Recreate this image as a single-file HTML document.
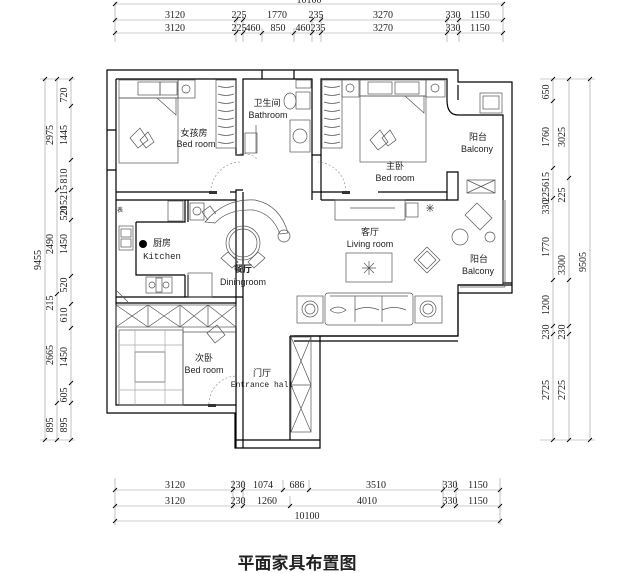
<!DOCTYPE html>
<html><head><meta charset="utf-8"><style>
html,body{margin:0;padding:0;background:#fff;width:630px;height:573px;overflow:hidden}
svg{display:block}
text{font-family:"Liberation Serif","Noto Serif CJK SC",serif;fill:#222}
.s{font-family:"Liberation Sans","Noto Sans CJK SC",sans-serif}
</style></head><body>
<svg width="630" height="573" viewBox="0 0 630 573" xmlns="http://www.w3.org/2000/svg">
<text x="309" y="3" font-size="10" text-anchor="middle">10100</text>
<g stroke="#999" stroke-width="0.6" fill="none">
<line x1="115" y1="4" x2="503" y2="4"/>
<line x1="115" y1="20" x2="503" y2="20"/>
<line x1="115" y1="33" x2="503" y2="33"/>
<g>
<line x1="115" y1="2" x2="115" y2="42"/><line x1="236" y1="15" x2="236" y2="42"/><line x1="243" y1="15" x2="243" y2="42"/>
<line x1="262" y1="28" x2="262" y2="42"/><line x1="294" y1="28" x2="294" y2="42"/><line x1="312" y1="15" x2="312" y2="42"/>
<line x1="321" y1="15" x2="321" y2="42"/><line x1="447" y1="15" x2="447" y2="42"/><line x1="459" y1="15" x2="459" y2="42"/>
<line x1="503" y1="2" x2="503" y2="42"/>
</g>
<line x1="45" y1="79" x2="45" y2="440"/><line x1="57" y1="79" x2="57" y2="440"/><line x1="71" y1="79" x2="71" y2="440"/>
<line x1="553" y1="79" x2="553" y2="440"/><line x1="569" y1="79" x2="569" y2="440"/><line x1="590" y1="79" x2="590" y2="440"/>
<line x1="540" y1="79" x2="595" y2="79"/><line x1="540" y1="440" x2="595" y2="440"/>
<line x1="40" y1="79" x2="75" y2="79"/><line x1="40" y1="440" x2="75" y2="440"/>
<line x1="115" y1="490" x2="500" y2="490"/><line x1="115" y1="506" x2="500" y2="506"/><line x1="115" y1="521" x2="500" y2="521"/>
<line x1="115" y1="478" x2="115" y2="525"/><line x1="500" y1="478" x2="500" y2="525"/>
<line x1="233" y1="480" x2="233" y2="508"/><line x1="243" y1="480" x2="243" y2="508"/><line x1="283" y1="480" x2="283" y2="492"/>
<line x1="290" y1="496" x2="290" y2="508"/><line x1="309" y1="480" x2="309" y2="492"/><line x1="443" y1="480" x2="443" y2="508"/><line x1="456" y1="480" x2="456" y2="508"/>
</g>
<g stroke="#000" stroke-width="0.9">
<path d="M113,22 l4,-4 M234,22 l4,-4 M241,22 l4,-4 M310,22 l4,-4 M319,22 l4,-4 M445,22 l4,-4 M457,22 l4,-4 M501,22 l4,-4
M113,35 l4,-4 M234,35 l4,-4 M241,35 l4,-4 M260,35 l4,-4 M292,35 l4,-4 M310,35 l4,-4 M319,35 l4,-4 M445,35 l4,-4 M457,35 l4,-4 M501,35 l4,-4
M113,6 l4,-4 M501,6 l4,-4
M113,492 l4,-4 M231,492 l4,-4 M241,492 l4,-4 M281,492 l4,-4 M307,492 l4,-4 M441,492 l4,-4 M454,492 l4,-4 M498,492 l4,-4
M113,508 l4,-4 M231,508 l4,-4 M241,508 l4,-4 M288,508 l4,-4 M441,508 l4,-4 M454,508 l4,-4 M498,508 l4,-4
M113,523 l4,-4 M498,523 l4,-4
M43,81 l4,-4 M55,81 l4,-4 M69,81 l4,-4 M43,442 l4,-4 M55,442 l4,-4 M69,442 l4,-4
M69,108 l4,-4 M69,162 l4,-4 M55,192 l4,-4 M69,192 l4,-4 M69,222 l4,-4 M69,278 l4,-4 M55,296 l4,-4 M69,306 l4,-4 M69,330 l4,-4 M69,385 l4,-4 M55,405 l4,-4 M69,405 l4,-4
M551,81 l4,-4 M567,81 l4,-4 M588,81 l4,-4 M551,442 l4,-4 M567,442 l4,-4 M588,442 l4,-4
M551,103 l4,-4 M551,170 l4,-4 M567,180 l4,-4 M551,200 l4,-4 M551,282 l4,-4 M567,282 l4,-4 M551,328 l4,-4 M567,328 l4,-4 M551,336 l4,-4 M567,336 l4,-4"/>
</g>
<g font-size="10" text-anchor="middle">
<text x="175" y="18">3120</text><text x="239" y="18">225</text><text x="277" y="18">1770</text><text x="316" y="18">235</text><text x="383" y="18">3270</text><text x="453" y="18">330</text><text x="480" y="18">1150</text>
<text x="175" y="31">3120</text><text x="239" y="31">225</text><text x="253" y="31">460</text><text x="278" y="31">850</text><text x="303" y="31">460</text><text x="318" y="31">235</text><text x="383" y="31">3270</text><text x="453" y="31">330</text><text x="480" y="31">1150</text>
<text x="175" y="488">3120</text><text x="238" y="488">230</text><text x="263" y="488">1074</text><text x="297" y="488">686</text><text x="376" y="488">3510</text><text x="450" y="488">330</text><text x="478" y="488">1150</text>
<text x="175" y="504">3120</text><text x="238" y="504">230</text><text x="267" y="504">1260</text><text x="367" y="504">4010</text><text x="450" y="504">330</text><text x="478" y="504">1150</text>
<text x="307" y="519">10100</text>
</g>
<g font-size="10" text-anchor="middle">
<text transform="translate(41,260) rotate(-90)">9455</text>
<text transform="translate(53,135) rotate(-90)">2975</text><text transform="translate(53,244) rotate(-90)">2490</text><text transform="translate(53,303) rotate(-90)">215</text><text transform="translate(53,355) rotate(-90)">2665</text><text transform="translate(53,425) rotate(-90)">895</text>
<text transform="translate(67,95) rotate(-90)">720</text><text transform="translate(67,135) rotate(-90)">1445</text><text transform="translate(67,176) rotate(-90)">810</text><text transform="translate(67,200) rotate(-90)">215215</text><text transform="translate(67,213) rotate(-90)">520</text><text transform="translate(67,244) rotate(-90)">1450</text><text transform="translate(67,285) rotate(-90)">520</text><text transform="translate(67,315) rotate(-90)">610</text><text transform="translate(67,357) rotate(-90)">1450</text><text transform="translate(67,395) rotate(-90)">605</text><text transform="translate(67,425) rotate(-90)">895</text>
<text transform="translate(549,92) rotate(-90)">650</text><text transform="translate(549,137) rotate(-90)">1760</text><text transform="translate(549,187) rotate(-90)">225615</text><text transform="translate(549,207) rotate(-90)">330</text><text transform="translate(549,247) rotate(-90)">1770</text><text transform="translate(549,305) rotate(-90)">1200</text><text transform="translate(549,332) rotate(-90)">230</text><text transform="translate(549,390) rotate(-90)">2725</text>
<text transform="translate(565,137) rotate(-90)">3025</text><text transform="translate(565,195) rotate(-90)">225</text><text transform="translate(565,265) rotate(-90)">3300</text><text transform="translate(565,332) rotate(-90)">230</text><text transform="translate(565,390) rotate(-90)">2725</text>
<text transform="translate(586,262) rotate(-90)">9505</text>
</g>
<g stroke="#000" stroke-width="1.2" fill="none">
<path d="M107,70 H458 V82 H512 V293 H458 V336 H320 V448 H235 V413 H107 Z"/>
<path d="M116,79 V405 H236 V448"/>
<path d="M116,79 H236 V155 H243 V79 H312 V155 H321 V79 H447 V100"/>
<path d="M458,100 V85 M447,100 Q447,115 458,115 H503 V285"/>
<path d="M503,285 H458 V336"/>
<path d="M116,192 H211 M230,192 H236 V200 M243,192 V200 M243,200 V414 M236,405 V200"/>
<path d="M236,192 V190 H243 M312,155 V192 H321 V155 M321,192 H346 M312,192 V200 M321,192 V200 M378,192 H447 V172 H458 V200 H447 V192"/>
<path d="M116,200 H236 M321,200 H447"/>
<path d="M136,222 H185 V200 M188,200 V222 M136,222 V275 H185 M185,275 V297 H188 V275"/>
<path d="M116,297 H185 M188,297 H243 M116,303 H236"/>
<path d="M243,414 V448 M290,336 V440 M290,336 H320"/>
<path d="M294,336 H458 M294,341 H458"/>
<path d="M262,70 V79 M294,70 V79 M107,130 H116 M107,170 H116"/>
<path d="M235,440 H320"/>
<path d="M458,285 H512 M503,283 H512"/>
</g>
<g stroke="#888" stroke-width="0.6" fill="none" stroke-dasharray="2,2">
<path d="M211,192 A30,30 0 0 1 240,162"/>
<path d="M346,192 A30,30 0 0 0 318,162"/>
<path d="M209,404 A28,28 0 0 1 237,376"/>
<path d="M236,155 A20,20 0 0 1 258,160"/>
</g>
<g stroke="#555" stroke-width="0.7" fill="none">
<rect x="119" y="98" width="59" height="65"/><rect x="119" y="80" width="59" height="18"/>
<rect x="138" y="82" width="22" height="13"/><rect x="160" y="82" width="17" height="13"/>
<path d="M157,98 L176,115 V98"/><path d="M130,138 l10,-10 l8,12 l-10,8z M140,140 l8,-8 l6,10 l-8,6z"/>
<rect x="178" y="80" width="17" height="18"/><circle cx="186" cy="89" r="4"/>
<rect x="216" y="80" width="20" height="68"/>
<path d="M218,86 q8,3 16,0 M218,94 q8,3 16,0 M218,102 q8,3 16,0 M218,110 q8,3 16,0 M218,118 q8,3 16,0 M218,126 q8,3 16,0 M218,134 q8,3 16,0 M218,142 q8,3 16,0"/>
<rect x="296" y="80" width="15" height="8"/><ellipse cx="290" cy="101" rx="6" ry="8"/><rect x="296" y="92" width="14" height="17"/>
<rect x="290" y="120" width="20" height="32"/><circle cx="300" cy="136" r="7"/>
<rect x="245" y="133" width="12" height="20"/><line x1="256" y1="125" x2="256" y2="153"/>
<rect x="322" y="80" width="20" height="68"/>
<path d="M324,86 q8,3 16,0 M324,94 q8,3 16,0 M324,102 q8,3 16,0 M324,110 q8,3 16,0 M324,118 q8,3 16,0 M324,126 q8,3 16,0 M324,134 q8,3 16,0 M324,142 q8,3 16,0"/>
<rect x="342" y="80" width="17" height="17"/><circle cx="350" cy="88" r="4"/>
<rect x="426" y="80" width="19" height="17"/><circle cx="435" cy="88" r="4"/>
<rect x="360" y="96" width="66" height="66"/><rect x="360" y="80" width="66" height="16"/><rect x="368" y="82" width="24" height="12"/><rect x="395" y="82" width="24" height="12"/>
<path d="M405,96 L424,113 V96"/><path d="M370,140 l10,-10 l8,12 l-10,8z M382,138 l8,-8 l6,10 l-8,6z"/>
<rect x="480" y="93" width="22" height="20"/><rect x="483" y="96" width="16" height="13"/>
<rect x="467" y="180" width="28" height="13"/><path d="M467,180 L495,193 M495,180 L467,193"/>
<path d="M503,200 V285 M505,200 V287 M460,287 H505"/>
<path d="M465,215 l12,-12 l15,15 l-12,12z"/><circle cx="460" cy="237" r="8"/><circle cx="490" cy="237" r="5"/>
<rect x="168" y="201" width="15" height="20"/>
<rect x="119" y="226" width="14" height="24"/><rect x="121" y="229" width="10" height="8"/><rect x="121" y="239" width="10" height="8"/>
<rect x="146" y="277" width="26" height="16"/><circle cx="152" cy="285" r="3"/><circle cx="166" cy="285" r="3"/><rect x="156" y="278" width="6" height="14"/>
<rect x="190" y="203" width="14" height="17"/><circle cx="197" cy="211" r="4"/>
<rect x="188" y="273" width="24" height="24"/>
<path d="M116,290 l12,12"/>
<path d="M205,222 Q225,198 255,200 Q280,205 288,233 L280,234 Q272,213 253,210 Q228,209 215,223 Z"/>
<path d="M208,220 l-6,-8 l8,-6 l6,8"/>
<circle cx="284" cy="236" r="6"/>
<circle cx="243" cy="243" r="17"/><circle cx="243" cy="243" r="14"/>
<path d="M221,258 l7,-6 l10,10 l-6,6z M265,258 l-7,-6 l-10,10 l6,6z"/>
<rect x="335" y="200" width="70" height="20"/><path d="M350,208 H395"/>
<rect x="406" y="203" width="12" height="14"/>
<path d="M426,208 l8,0 M430,204 l0,8 M427,205 l6,6 M433,205 l-6,6"/>
<rect x="346" y="253" width="46" height="29"/><path d="M362,268 h14 M369,261 v14 M364,263 l10,10 M374,263 l-10,10"/>
<path d="M427,247 l13,13 l-13,13 l-13,-13z"/><path d="M427,251 l9,9 l-9,9 l-9,-9z"/>
<rect x="325" y="293" width="88" height="32" rx="3"/><path d="M330,296 H408 M355,296 V322 M382,296 V322"/>
<path d="M330,310 q8,-6 16,0 q-8,6 -16,0 M355,310 q12,-5 24,0 M382,310 q12,-5 24,0"/>
<rect x="297" y="296" width="26" height="27"/><circle cx="310" cy="309" r="8"/><circle cx="310" cy="309" r="5"/>
<rect x="415" y="296" width="27" height="27"/><circle cx="428" cy="309" r="8"/><circle cx="428" cy="309" r="5"/>
<rect x="116" y="305" width="120" height="22"/><path d="M116,305 L148,327 M148,305 L116,327 M148,305 L180,327 M180,305 L148,327 M148,305 V327 M180,305 V327 M180,305 L208,327 M208,305 L180,327 M208,305 L236,327 M236,305 L208,327 M208,305 V327"/>
<path d="M183,327 V405 M183,332 H236"/>
<rect x="119" y="330" width="64" height="75"/><rect x="135" y="352" width="30" height="30"/>
<path d="M119,345 H183 M119,390 H183 M135,330 V405 M165,330 V405" stroke="#aaa"/>
<path d="M207,333 l10,-8 l8,10 l-10,8z"/>
<rect x="291" y="337" width="20" height="95"/><path d="M291,337 L311,385 M311,337 L291,385 M291,385 L311,432 M311,385 L291,432 M291,385 H311"/>
</g>
<circle cx="143" cy="244" r="4" fill="#000"/>
<rect x="209" y="191" width="8" height="3" fill="#333"/><rect x="342" y="191" width="8" height="3" fill="#333"/><rect x="208" y="404" width="8" height="3" fill="#333"/>
<g font-size="9" text-anchor="middle" class="s">
<text x="194" y="136" class="s">女孩房</text><text x="196" y="147" class="s">Bed room</text>
<text x="267" y="106" class="s">卫生间</text><text x="268" y="118" class="s">Bathroom</text>
<text x="395" y="169" class="s">主卧</text><text x="395" y="181" class="s">Bed room</text>
<text x="478" y="140" class="s">阳台</text><text x="477" y="152" class="s">Balcony</text>
<text x="162" y="246" class="s">厨房</text><text x="162" y="259" style="font-family:'Liberation Mono',monospace">Kitchen</text>
<text x="243" y="272" class="s" font-weight="bold">餐厅</text><text x="243" y="285" class="s">Diningroom</text>
<text x="370" y="235" class="s">客厅</text><text x="370" y="247" class="s">Living room</text>
<text x="479" y="262" class="s">阳台</text><text x="478" y="274" class="s">Balcony</text>
<text x="204" y="361" class="s">次卧</text><text x="204" y="373" class="s">Bed room</text>
<text x="262" y="376" class="s">门厅</text><text x="262" y="387" style="font-family:'Liberation Mono',monospace" font-size="8">Entrance hall</text>
<text x="120" y="212" font-size="6" class="s">表</text>
</g>
<text x="297" y="569" font-size="17" font-weight="bold" text-anchor="middle" style="font-family:'Noto Sans CJK SC',sans-serif">平面家具布置图</text>
</svg>
</body></html>
